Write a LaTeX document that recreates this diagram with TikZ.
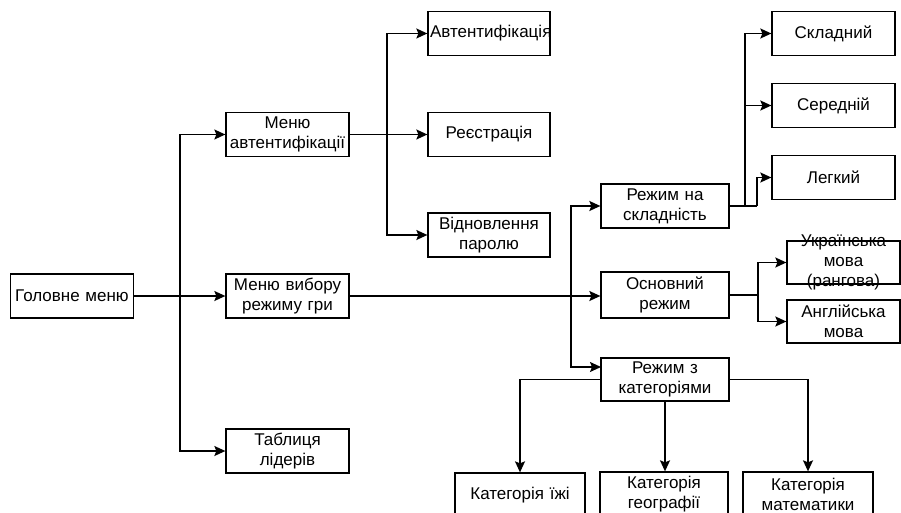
\documentclass[tikz,border=0pt]{standalone}
\usepackage{fontspec}
\setmainfont{Liberation Sans}
\usepackage{tikz}
\usetikzlibrary{arrows.meta,positioning}

\begin{document}
\begin{tikzpicture}[x=1pt,y=-1pt]
                \tikzset{box/.style = {shape=rectangle,draw,line width=1.3pt,inner sep=0pt,
                        minimum width=123pt,minimum height=44pt,text width=118pt,align=center,
                        font=\fontsize{17}{20}\selectfont}}
                \tikzset{edge/.style = {-{Stealth[length=11pt,width=10pt,inset=2pt]},line width=1.4pt}}
                \tikzset{wire/.style = {line width=1.4pt}}
                \clip (0,0) rectangle (901,513);
                % vertices
                \node[box] (main) at (72,296) {Головне меню};
                \node[box] (auth) at (287.5,134.5) {Меню автентифікації};
                \node[box] (mode) at (287.5,296) {Меню вибору режиму гри};
                \node[box] (lead) at (287.5,451) {Таблиця лідерів};

                \node[box, minimum width=122pt] (login) at (489,33.5) {Автентифікація};
                \node[box, minimum width=122pt] (reg) at (489,134.5) {Реєстрація};
                \node[box, minimum width=122pt] (rest) at (489,235) {Відновлення паролю};

                \node[box, minimum width=128pt] (diff) at (665,206) {Режим на складність};
                \node[box, minimum width=128pt, minimum height=46pt] (basic) at (665,295) {Основний режим};
                \node[box, minimum width=128pt, minimum height=43pt] (cat) at (665,379.5) {Режим з категоріями};

                \node[box] (hard) at (833.5,33.5) {Складний};
                \node[box] (mid) at (833.5,105.5) {Середній};
                \node[box] (easy) at (833.5,177.5) {Легкий};

                \node[box, minimum width=113pt, minimum height=43pt, text width=110pt,
                      label={[font=\fontsize{17}{20}\selectfont,align=center]center:Українська\\мова\\(рангова)}] (ukr) at (843.5,262.5) {};
                \node[box, minimum width=113pt, minimum height=43pt, text width=110pt] (eng) at (843.5,321.5) {Англійська\\мова};

                \node[box, minimum width=130pt] (food) at (520,495) {Категорія їжі};
                \node[box, minimum width=128pt] (geo) at (664,494) {Категорія географії};
                \node[box, minimum width=130pt] (math) at (808,494) {Категорія математики};
                % branch points
                \coordinate (t1) at (180,296);
                \coordinate (t2) at (387,134.5);
                \coordinate (t3) at (571,296);
                \coordinate (t4) at (745,206);
                \coordinate (t5) at (757,206);
                \coordinate (t6) at (758,295);
                \coordinate (c1) at (601,367);
                %edges
                \draw[edge] (main) to (mode);
                \draw[edge] (t1) |- (auth.west);
                \draw[edge] (t1) |- (lead.west);

                \draw[edge] (auth) to (reg);
                \draw[edge] (t2) |- (login.west);
                \draw[edge] (t2) |- (rest.west);

                \draw[edge] (mode.east) to (mode.east -| basic.west);
                \draw[edge] (t3) |- (diff.west);
                \draw[edge] (t3) |- (c1);

                \draw[wire] (diff.east) to (t5);
                \draw[edge] (t4) |- (hard.west);
                \draw[edge] (t4) |- (mid.west);
                \draw[edge] (t5) |- (easy.west);

                \draw[wire] (basic.east) to (t6);
                \draw[edge] (t6) |- (ukr.west);
                \draw[edge] (t6) |- (eng.west);

                \draw[edge] (cat.west) -| (food.north);
                \draw[edge] (cat.south) to (cat.south |- geo.north);
                \draw[edge] (cat.east) -| (math.north);
            \end{tikzpicture}
\end{document}
